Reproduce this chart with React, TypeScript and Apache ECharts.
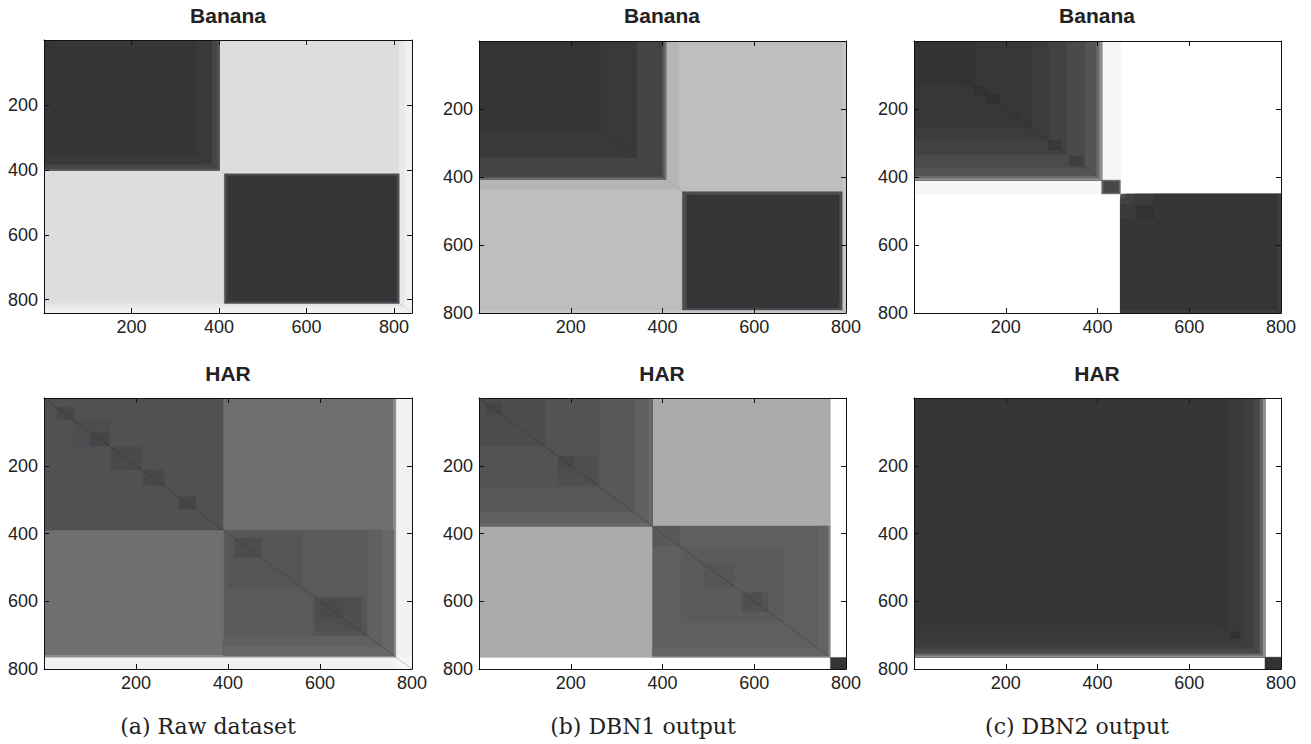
import React, { useEffect, useRef } from "react";
import * as echarts from "echarts";

// Entry = [col start, col end, row start, row end, gray level 0-255]
// kind 0: plain rectangle
// kind 1: rectangle mirrored across the diagonal (symmetric distance matrix)
// kind 2: band of columns col start..col end over rows row start..diagonal, mirrored
type Entry = [number, number, number, number, number];

const tickValues = [200, 400, 600, 800];
const panelTitles = ["Banana", "Banana", "Banana", "HAR", "HAR", "HAR"];
const captions = ["(a) Raw dataset", "(b) DBN1 output", "(c) DBN2 output"];
const matrixSizes = [841, 800, 800, 800, 800, 800];
const diagonalEnds = [841, 800, 800, 800, 766, 765];

const bananaRaw: [Entry, number][] = [
  [[0, 841, 0, 841, 221], 0],
  [[812, 824, 0, 812, 232], 2],
  [[824, 841, 0, 824, 240], 2],
  [[0, 401, 0, 401, 54], 0],
  [[352, 401, 0, 401, 58], 2],
  [[384, 401, 0, 401, 70], 2],
  [[398, 401, 0, 401, 95], 2],
  [[412, 812, 412, 812, 125], 0],
  [[413, 811, 413, 811, 74], 0],
  [[419, 805, 419, 805, 54], 0],
];

const bananaDbn1: [Entry, number][] = [
  [[0, 800, 0, 800, 190], 0],
  [[407, 436, 0, 436, 181], 2],
  [[0, 407, 0, 407, 53], 0],
  [[266, 407, 0, 407, 57], 2],
  [[344, 407, 0, 407, 68], 2],
  [[400, 407, 0, 407, 88], 2],
  [[405, 407, 0, 407, 120], 2],
  [[443, 793, 443, 793, 125], 0],
  [[444, 792, 444, 792, 78], 0],
  [[453, 785, 453, 785, 54], 0],
  [[793, 800, 0, 800, 198], 2],
];

const bananaDbn2: [Entry, number][] = [
  [[0, 800, 0, 800, 255], 0],
  [[409, 450, 0, 450, 246], 2],
  [[0, 409, 0, 409, 51], 0],
  [[132, 409, 0, 409, 55], 2],
  [[258, 409, 0, 409, 60], 2],
  [[294, 409, 0, 409, 66], 2],
  [[333, 409, 0, 409, 74], 2],
  [[373, 409, 0, 409, 84], 2],
  [[398, 409, 0, 409, 108], 2],
  [[405, 409, 0, 409, 150], 2],
  [[133, 159, 133, 159, 50], 0],
  [[159, 185, 159, 185, 49], 0],
  [[205, 226, 205, 226, 53], 0],
  [[293, 322, 293, 322, 58], 0],
  [[338, 368, 338, 368, 64], 0],
  [[409, 450, 409, 450, 105], 0],
  [[413, 446, 413, 446, 72], 0],
  [[450, 800, 450, 800, 115], 0],
  [[454, 800, 450, 800, 82], 2],
  [[462, 800, 450, 800, 66], 2],
  [[480, 800, 450, 800, 59], 2],
  [[522, 800, 450, 800, 54], 2],
  [[485, 522, 485, 522, 51], 0],
  [[792, 800, 450, 800, 62], 2],
];

const harRaw: [Entry, number][] = [
  [[0, 800, 0, 800, 241], 0],
  [[765, 800, 765, 800, 246], 0],
  [[390, 760, 0, 390, 111], 1],
  [[760, 765, 0, 765, 140], 2],
  [[0, 390, 0, 390, 81], 0],
  [[28, 64, 28, 64, 72], 0],
  [[65, 142, 65, 142, 77], 0],
  [[102, 140, 102, 140, 70], 0],
  [[146, 212, 146, 212, 73], 0],
  [[216, 261, 214, 258, 72], 0],
  [[294, 329, 292, 327, 70], 0],
  [[390, 760, 390, 760, 90], 0],
  [[400, 560, 400, 560, 85], 0],
  [[416, 471, 415, 470, 77], 0],
  [[586, 703, 586, 703, 85], 0],
  [[590, 690, 590, 688, 79], 0],
  [[600, 650, 600, 650, 74], 0],
  [[703, 760, 390, 760, 96], 2],
  [[735, 760, 390, 760, 104], 2],
];

const harDbn1: [Entry, number][] = [
  [[0, 800, 0, 800, 255], 0],
  [[766, 800, 766, 800, 52], 0],
  [[378, 766, 0, 378, 171], 1],
  [[761, 766, 378, 766, 135], 2],
  [[0, 378, 0, 378, 76], 0],
  [[144, 378, 0, 378, 83], 2],
  [[264, 378, 0, 378, 88], 2],
  [[338, 378, 0, 378, 96], 2],
  [[370, 378, 0, 378, 105], 2],
  [[15, 48, 15, 48, 70], 0],
  [[173, 257, 174, 256, 78], 0],
  [[173, 206, 173, 206, 72], 0],
  [[378, 761, 378, 761, 95], 0],
  [[740, 761, 378, 761, 100], 2],
  [[380, 438, 380, 438, 89], 0],
  [[442, 664, 440, 661, 91], 0],
  [[490, 555, 490, 559, 86], 0],
  [[573, 630, 573, 632, 83], 0],
  [[578, 615, 578, 615, 79], 0],
];

const harDbn2: [Entry, number][] = [
  [[0, 800, 0, 800, 255], 0],
  [[765, 800, 765, 800, 50], 0],
  [[0, 765, 0, 765, 54], 0],
  [[685, 765, 0, 765, 57], 2],
  [[718, 765, 0, 765, 62], 2],
  [[740, 765, 0, 765, 72], 2],
  [[754, 765, 0, 765, 98], 2],
  [[761, 765, 0, 765, 150], 2],
  [[690, 710, 690, 710, 50], 0],
];

const panelBlocks = [bananaRaw, bananaDbn1, bananaDbn2, harRaw, harDbn1, harDbn2];

// layout (pixels) and styling
const gridBoxes = [
  { left: 44, top: 40, width: 368, height: 273 },
  { left: 479, top: 41, width: 367, height: 272 },
  { left: 914, top: 41, width: 367, height: 272 },
  { left: 44, top: 398, width: 368, height: 271 },
  { left: 479, top: 398, width: 367, height: 271 },
  { left: 914, top: 398, width: 367, height: 271 },
];
const diagonalAlpha = [0.1, 0.12, 0.15, 0.3, 0.3, 0.06];
const titlePos = [
  [228, 15], [662, 15], [1097, 15],
  [228, 373], [662, 373], [1097, 373],
];
const captionPos = [[208, 726], [643, 726], [1077, 726]];

// item: [x0, x1, y0, y1, level, shape]; shape 0 rect, 1 upper trapezoid, 2 lower trapezoid
function expand(list: [Entry, number][]): number[][] {
  const out: number[][] = [];
  list.forEach(([b, k]) => {
    const [c0, c1, r0, r1, v] = b;
    if (k === 0) out.push([c0, c1, r0, r1, v, 0]);
    else if (k === 1) {
      out.push([c0, c1, r0, r1, v, 0]);
      out.push([r0, r1, c0, c1, v, 0]);
    } else {
      out.push([c0, c1, r0, c1, v, 1]);
      out.push([r0, c1, c0, c1, v, 2]);
    }
  });
  return out;
}

export default function App() {
  const ref = useRef<HTMLDivElement>(null);
  useEffect(() => {
    if (!ref.current) return;
    const chart = echarts.init(ref.current, undefined, { renderer: "svg" });
    const labelStyle = {
      fontSize: 18,
      fontFamily: "Liberation Sans, Arial, sans-serif",
      color: "#222",
    };
    const fmt = (v: number) => (v > 0 && v % 200 === 0 ? String(v) : "");
    const grids: any[] = [];
    const xAxes: any[] = [];
    const yAxes: any[] = [];
    const series: any[] = [];
    const graphics: any[] = [];
    gridBoxes.forEach((g, i) => {
      const size = matrixSizes[i];
      grids.push({ ...g, containLabel: false });
      const common = {
        gridIndex: i,
        type: "value",
        min: 0,
        max: size,
        interval: 200,
        splitLine: { show: false },
        z: 5,
        axisLine: { show: true, onZero: false, lineStyle: { color: "#111", width: 1 } },
        axisTick: {
          show: true,
          inside: true,
          length: 5,
          customValues: tickValues,
          lineStyle: { color: "#111", width: 1 },
        },
      };
      xAxes.push({
        ...common,
        position: "bottom",
        axisLabel: { ...labelStyle, margin: 5, customValues: tickValues, formatter: fmt },
      });
      xAxes.push({ ...common, position: "top", axisLabel: { show: false } });
      yAxes.push({
        ...common,
        inverse: true,
        position: "left",
        axisLabel: { ...labelStyle, margin: 6, customValues: tickValues, formatter: fmt },
      });
      yAxes.push({ ...common, inverse: true, position: "right", axisLabel: { show: false } });

      series.push({
        type: "custom",
        xAxisIndex: 2 * i,
        yAxisIndex: 2 * i,
        clip: true,
        silent: true,
        encode: { x: [0, 1], y: [2, 3] },
        data: expand(panelBlocks[i]),
        renderItem: (_p: any, api: any) => {
          const x0 = api.value(0);
          const x1 = api.value(1);
          const y0 = api.value(2);
          const y1 = api.value(3);
          const v = api.value(4);
          const kind = api.value(5);
          const c = `rgb(${v},${v},${Math.min(255, v + 3)})`;
          const style = { fill: c, stroke: c, lineWidth: 0.4 };
          if (kind === 0) {
            const p0 = api.coord([x0, y0]);
            const p1 = api.coord([x1, y1]);
            return {
              type: "rect",
              shape: {
                x: Math.min(p0[0], p1[0]),
                y: Math.min(p0[1], p1[1]),
                width: Math.abs(p1[0] - p0[0]),
                height: Math.abs(p1[1] - p0[1]),
              },
              style,
            };
          }
          const pts =
            kind === 1
              ? [[x0, y0], [x1, y0], [x1, x1], [x0, x0]]
              : [[x0, y0], [x0, y1], [y1, y1], [y0, y0]];
          return {
            type: "polygon",
            shape: { points: pts.map((p) => api.coord(p)) },
            style,
          };
        },
      });
      series.push({
        type: "line",
        xAxisIndex: 2 * i,
        yAxisIndex: 2 * i,
        symbol: "none",
        silent: true,
        z: 3,
        data: [
          [0, 0],
          [diagonalEnds[i], diagonalEnds[i]],
        ],
        lineStyle: { color: `rgba(25,25,25,${diagonalAlpha[i]})`, width: 0.8 },
      });

      graphics.push({
        type: "text",
        x: titlePos[i][0],
        y: titlePos[i][1],
        style: {
          text: panelTitles[i],
          fontSize: 21,
          fontWeight: "bold",
          fontFamily: "Liberation Sans, Arial, sans-serif",
          fill: "#222",
          align: "center",
          verticalAlign: "middle",
        },
      });
    });
    captions.forEach((c, i) => {
      graphics.push({
        type: "text",
        x: captionPos[i][0],
        y: captionPos[i][1],
        style: {
          text: c,
          fontSize: 22,
          fontFamily: "DejaVu Serif, serif",
          fill: "#222",
          align: "center",
          verticalAlign: "middle",
        },
      });
    });

    chart.setOption({
      animation: false,
      backgroundColor: "#fff",
      grid: grids,
      xAxis: xAxes,
      yAxis: yAxes,
      series,
      graphic: graphics,
    });
    return () => chart.dispose();
  }, []);
  return (
    <div
      ref={ref}
      style={{ position: "absolute", left: 0, top: 0, width: 1311, height: 744 }}
    />
  );
}
